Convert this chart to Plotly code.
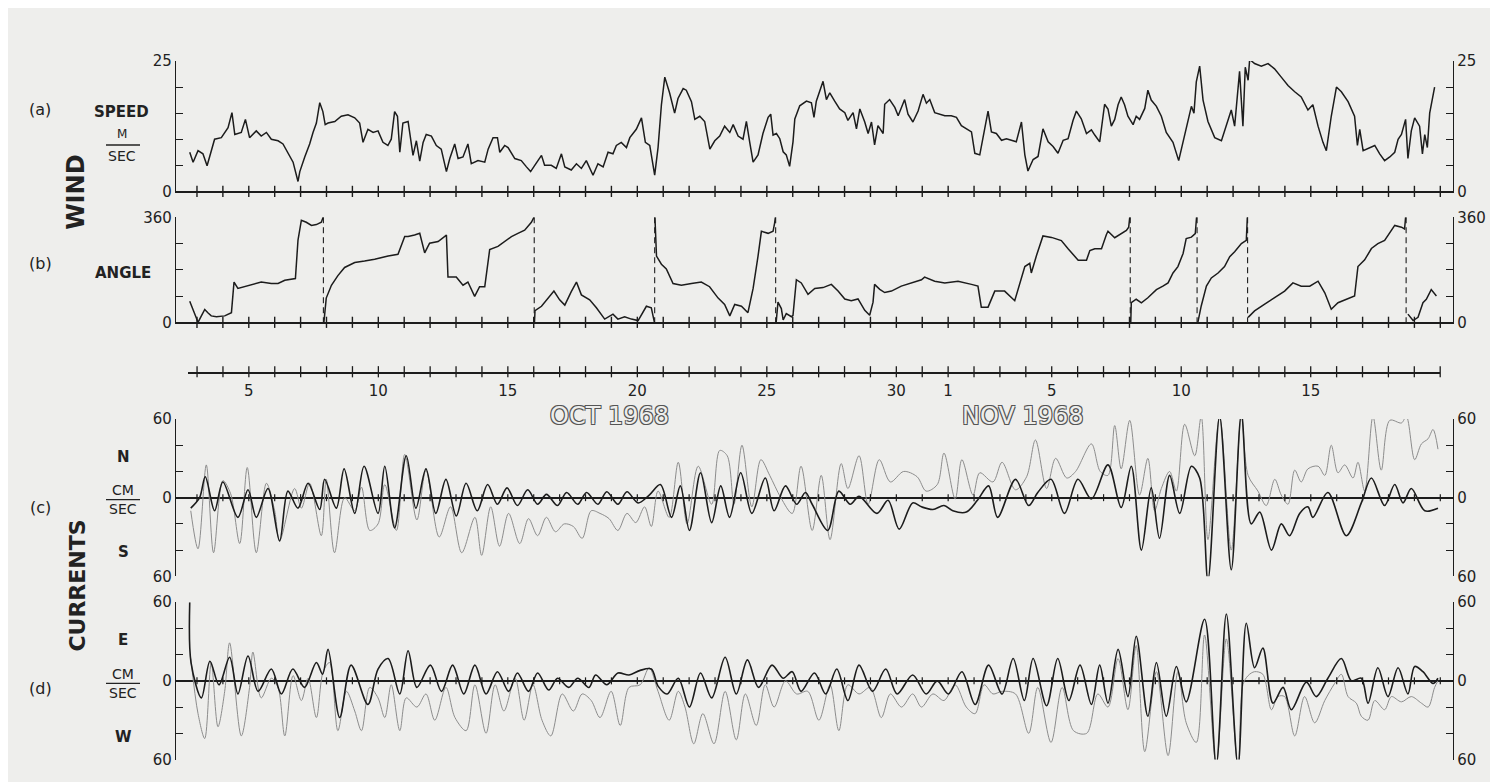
import plotly.graph_objects as go

W, H = 1498, 782
BG = "#eeeeec"
INK = "#1c1c1c"
GRAY = "#8c8c8c"
FONT = "DejaVu Sans"

# ---------------- data (day number: Oct d = d, Nov n = 31 + n) ----------------
speed_day = [2.72, 2.85, 3.04, 3.23, 3.39, 3.55, 3.68, 3.94, 4.20, 4.35, 4.46, 4.71, 4.87, 5.03, 5.29, 5.48, 5.68, 5.87,
             6.13, 6.32, 6.51, 6.71, 6.90, 6.97, 7.16, 7.35, 7.48, 7.61, 7.74, 7.86, 7.95, 8.06, 8.32, 8.57, 8.83, 9.09,
             9.28, 9.41, 9.60, 9.80, 9.99, 10.18, 10.37, 10.50, 10.63, 10.74, 10.83, 10.95, 11.15,
             11.34, 11.47, 11.60, 11.73, 11.85, 12.05, 12.24, 12.43, 12.63, 12.76, 12.95, 13.08, 13.27, 13.46, 13.59,
             13.85, 14.11, 14.24, 14.43, 14.60, 14.69, 14.88, 15.01, 15.27, 15.52, 15.72, 15.88, 16.04, 16.30, 16.42,
             16.68, 16.87, 17.07, 17.20, 17.45, 17.65, 17.84, 18.03, 18.29, 18.48, 18.68, 18.87, 19.06, 19.19, 19.38,
             19.58, 19.71, 19.96, 20.16, 20.31, 20.48, 20.67, 20.80, 20.93, 21.06, 21.25, 21.44, 21.57, 21.77, 21.89,
             22.09, 22.22, 22.41, 22.60, 22.80, 22.99, 23.18, 23.37, 23.57, 23.70, 23.89, 24.08, 24.21, 24.34, 24.47,
             24.66, 24.85, 25.05, 25.15, 25.24, 25.37, 25.50, 25.63, 25.75, 25.88, 26.01, 26.08, 26.27, 26.53, 26.72,
             26.82, 26.91, 27.04, 27.17, 27.30, 27.43, 27.62, 27.81, 28.01, 28.13, 28.33, 28.46, 28.59, 28.78, 28.91,
             29.04, 29.16, 29.29, 29.49, 29.55, 29.74, 29.94, 30.07, 30.19, 30.32, 30.45, 30.64, 30.84, 31.03, 31.16,
             31.29, 31.48, 31.67, 31.87, 32.12, 32.32, 32.51, 32.70, 32.90, 33.03, 33.22, 33.41, 33.54, 33.67, 33.86,
             34.06, 34.25, 34.44, 34.63, 34.83, 34.96, 35.08, 35.28, 35.47, 35.66, 35.86, 36.05, 36.24, 36.44, 36.63,
             36.82, 36.95, 37.14, 37.34, 37.53, 37.66, 37.85, 38.04, 38.17, 38.30, 38.43, 38.56, 38.68, 38.81, 38.94,
             39.14, 39.26, 39.39, 39.59, 39.71, 39.84, 40.04, 40.23, 40.42, 40.68, 40.90, 41.07, 41.26, 41.39, 41.49,
             41.58, 41.71, 41.84, 42.03, 42.29, 42.55, 42.74, 42.93, 43.06, 43.25, 43.38, 43.47, 43.58, 43.64, 43.83,
             44.09, 44.35, 44.60, 44.86, 45.12, 45.38, 45.63, 45.89, 46.08, 46.28, 46.47, 46.60, 46.79, 46.99, 47.18,
             47.44, 47.69, 47.80, 47.89, 48.02, 48.27, 48.47, 48.66, 48.85, 49.05, 49.24, 49.37, 49.50, 49.66, 49.75,
             49.88, 50.01, 50.20, 50.31, 50.40, 50.50, 50.59, 50.78]
speed_val = [7.5, 5.6, 7.8, 7.2, 4.9, 7.5, 10.0, 10.3, 12.2, 15.1, 10.9, 11.3, 13.8, 10.3, 11.6, 10.6, 11.3, 10.0,
             9.7, 9.1, 7.5, 5.6, 1.9, 3.8, 6.6, 9.1, 11.3, 13.1, 17.0, 15.3, 12.8, 13.1, 13.4, 14.4, 14.7, 14.1,
             13.1, 9.4, 11.9, 11.3, 11.6, 9.4, 8.8, 10.0, 15.3, 14.4, 7.5, 13.1, 13.4,
             6.9, 9.7, 5.8, 9.4, 10.9, 10.6, 8.8, 8.1, 3.8, 6.3, 9.1, 6.3, 6.6, 9.1, 5.3,
             5.9, 5.6, 8.1, 10.3, 10.3, 7.5, 8.8, 8.4, 6.3, 5.9, 4.7, 3.8, 5.0, 6.9, 5.0,
             5.0, 4.4, 7.2, 4.7, 4.1, 5.3, 4.4, 5.9, 3.1, 5.3, 4.7, 7.5, 7.2, 8.8, 9.4,
             8.4, 10.3, 11.9, 14.1, 9.4, 8.8, 3.1, 8.4, 16.6, 21.9, 18.8, 15.0, 17.8, 19.7, 19.4,
             17.2, 13.8, 14.4, 13.4, 8.1, 9.7, 10.6, 12.5, 11.3, 12.8, 10.6, 10.0, 13.4, 9.4, 5.6,
             7.0, 11.1, 14.2, 14.8, 10.8, 11.1, 10.1, 7.6, 7.0, 4.8, 9.5, 13.9, 16.4, 17.3, 17.0,
             14.2, 17.3, 19.2, 21.1, 17.6, 18.9, 17.3, 15.8, 15.1, 13.6, 15.1, 12.0, 15.8, 13.3, 11.1,
             13.3, 8.9, 12.6, 11.1, 16.7, 17.6, 16.1, 14.5, 16.1, 17.6, 14.8, 13.3, 15.4, 18.6, 16.9,
             17.6, 15.1, 14.8, 14.5, 14.5, 14.2, 12.6, 12.0, 11.4, 7.3, 7.0, 12.0, 15.4, 11.4, 11.1,
             9.8, 10.1, 9.8, 9.5, 13.3, 7.0, 3.9, 6.1, 6.7, 12.0, 9.5, 8.6, 7.3, 9.8, 10.1,
             13.6, 15.4, 13.9, 11.1, 11.8, 10.8, 9.5, 16.7, 15.8, 12.5, 13.8, 16.6, 18.1, 16.6, 14.4,
             12.8, 14.4, 13.8, 15.9, 19.4, 17.5, 16.3, 14.4, 11.3, 9.4, 5.9, 9.4, 13.1, 16.3, 15.0,
             21.0, 24.0, 17.5, 13.4, 10.3, 9.7, 12.5, 15.6, 12.5, 23.0, 12.5, 23.8, 21.3, 25.3, 24.5,
             24.0, 24.5, 23.5, 21.9, 20.3, 19.1, 18.1, 15.6, 16.6, 12.5, 9.4, 7.8, 14.4, 20.0, 19.1,
             17.2, 14.4, 8.8, 11.9, 7.8, 8.4, 8.8, 7.2, 5.9, 6.6, 7.5, 10.0, 10.9, 13.8, 6.3,
             11.6, 14.1, 12.5, 7.2, 10.9, 8.4, 15.0, 20.0]

# wind angle, one list per branch between the 360/0 wrap-arounds
angle_segments_day = [
    [2.72, 2.91, 3.04, 3.17, 3.30, 3.42, 3.55, 3.75, 4.07, 4.33, 4.43, 4.58, 4.84, 5.10, 5.48, 5.87, 6.13, 6.39, 6.71,
     6.80, 6.90, 7.03, 7.22, 7.42, 7.61, 7.80, 7.87],
    [7.90, 7.99, 8.19, 8.44, 8.70, 9.09, 9.47, 9.86, 10.38, 10.76, 11.02, 11.15, 11.40, 11.60, 11.79, 11.98, 12.31,
     12.63, 12.69, 13.01, 13.27, 13.46, 13.72, 13.91, 14.11, 14.30, 14.62, 14.88, 15.14, 15.39, 15.65, 15.91, 16.01],
    [16.03, 16.05, 16.30, 16.55, 16.78, 17.00, 17.20, 17.45, 17.65, 17.84, 18.16, 18.42, 18.74, 19.06, 19.25, 19.51,
     19.77, 20.03, 20.16, 20.35, 20.54, 20.66],
    [20.68, 20.74, 20.93, 21.12, 21.38, 21.70, 22.09, 22.47, 22.79, 23.12, 23.37, 23.57, 23.76, 24.02, 24.27, 24.47,
     24.66, 24.79, 25.05, 25.24, 25.30, 25.33],
    [25.36, 25.43, 25.56, 25.63, 25.75, 25.95, 26.01, 26.14, 26.33, 26.59, 26.85, 27.17, 27.49, 27.75, 28.01, 28.26,
     28.52, 28.78, 28.97, 29.10, 29.16, 29.36, 29.55, 29.81, 30.19, 30.58, 30.97, 31.09, 31.48, 31.87, 32.38, 32.90,
     33.15, 33.28, 33.54, 33.80, 34.18, 34.57, 34.83, 34.96, 35.15, 35.21, 35.41, 35.66, 35.99, 36.37, 36.63, 37.02,
     37.34, 37.47, 37.66, 37.92, 38.11, 38.17, 38.43, 38.68, 38.88, 38.97, 39.01],
    [39.05, 39.07, 39.26, 39.46, 39.71, 40.04, 40.29, 40.49, 40.68, 40.87, 41.07, 41.19, 41.39, 41.54, 41.59],
    [41.64, 41.77, 41.97, 42.16, 42.42, 42.67, 42.87, 43.06, 43.32, 43.51, 43.55],
    [43.58, 43.83, 44.22, 44.60, 44.99, 45.31, 45.63, 45.96, 46.28, 46.54, 46.79, 47.05, 47.37, 47.69, 47.82, 48.08,
     48.34, 48.59, 48.85, 49.24, 49.50, 49.62, 49.66],
    [49.75, 49.95, 50.14, 50.33, 50.46, 50.65, 50.85],
]
angle_segments_val = [
    [72, 33, 0, 22, 44, 33, 22, 19, 22, 33, 138, 116, 122, 127, 138, 133, 133, 144, 150,
     150, 282, 350, 343, 332, 335, 343, 360],
    [0, 83, 127, 160, 188, 205, 210, 216, 227, 233, 294, 294, 299, 305, 238, 271, 277,
     299, 155, 155, 127, 138, 89, 122, 122, 249, 260, 277, 294, 305, 316, 343, 360],
    [0, 40, 55, 83, 107, 77, 59, 105, 138, 94, 77, 50, 11, 28, 11, 19,
     11, 6, 28, 55, 50, 0],
    [360, 227, 199, 183, 133, 127, 133, 138, 122, 83, 61, 22, 61, 55, 33, 116,
     227, 312, 305, 312, 340, 360],
    [0, 69, 47, 8, 30, 19, 24, 146, 135, 96, 116, 119, 130, 107, 80, 74,
     80, 41, 24, 69, 130, 113, 102, 107, 124, 135, 146, 155, 141, 135, 141, 130,
     124, 52, 52, 107, 107, 74, 157, 191, 202, 169, 229, 296, 291, 280, 252, 213,
     213, 246, 252, 252, 301, 312, 290, 304, 315, 326, 360],
    [0, 67, 79, 67, 84, 112, 124, 135, 169, 191, 236, 287, 292, 304, 360],
    [0, 56, 124, 152, 169, 191, 225, 242, 270, 281, 360],
    [17, 39, 62, 84, 107, 135, 124, 124, 141, 101, 45, 67, 79, 90, 191, 214,
     253, 270, 281, 332, 326, 320, 360],
    [28, 6, 17, 67, 79, 112, 90],
]
wrap_days = [7.88, 16.02, 20.67, 25.34, 39.03, 41.61, 43.56, 49.68]

# currents (c) north-south, (d) east-west; "dark" = heavy trace, "light" = thin trace
ns_dark_day = [2.76, 3.10, 3.32, 3.68, 4.00, 4.58, 4.97, 5.29, 5.74, 6.19, 6.51, 6.90, 7.29, 7.74, 7.93, 8.38, 8.68,
               9.09, 9.45, 9.99, 10.25, 10.63, 11.08, 11.45,
               11.84, 12.22, 12.61, 13.01, 13.39, 13.82, 14.22, 14.60, 14.97, 15.37, 15.77, 16.15, 16.49, 16.92, 17.27,
               17.70, 18.04, 18.48, 18.82, 19.25, 19.60, 20.03, 20.46, 20.89, 21.32, 21.66, 22.01, 22.44, 22.87, 23.22,
               23.56, 23.99, 24.42, 24.94, 25.28, 25.72, 26.15, 26.49, 26.75, 27.35, 27.78, 28.22, 28.56, 29.25, 29.68,
               30.11, 30.63, 30.97, 31.41, 31.84, 32.18, 32.70, 33.13, 33.56, 33.91, 34.60, 35.11, 35.46, 35.97, 36.49,
               37.01, 37.53,
               38.17, 38.68, 39.07, 39.46, 39.84, 40.16, 40.55, 40.94, 41.39, 41.71, 42.03, 42.48, 42.93, 43.32, 43.70,
               44.03, 44.48, 44.86, 45.18, 45.57, 45.89, 46.08, 46.66, 47.37, 47.95, 48.34, 48.85, 49.24, 49.56, 49.88,
               50.40, 50.91]
ns_dark_val = [-8, 0, 16, -10, 12, -15, 6, -15, 7, -33, 5, -8, 11, -9, 14, -8, 22,
               -12, 24, -12, 24, -23, 32, -8,
               22, -12, 14, -14, 11, -10, 10, -5, 7.5, -6, 6, -5, 2.5, -6, 4,
               -5, 4, -5, 4.5, -5, 4.5, -4, 2, 10, -15, 9, -25, 19, -19, 9,
               -15, 19, -12, 15, -10, 9, -5, 4, -5, -25, 5, -5, 1, -12, -2,
               -24, -4, -7, -9, -6, -10, -11, -2, 9, -15, 14, -6, 4, 14, -12,
               14, -1,
               25, -7.5, 24, -40, 7.5, -31, 17, -12, 24, 15, -63, 62, -55, 64, -20,
               -11, -40, -20, -29, -12, -7, -15, 4, -29, -4, 15, -6, 10, -4, 7,
               -10, -8]
ns_light_day = [2.76, 3.04, 3.36, 3.64, 4.00, 4.30, 4.65, 4.94, 5.29, 5.68, 6.00, 6.19, 6.77, 7.03, 7.35, 7.80, 7.99,
                8.31, 8.70, 9.09, 9.35, 9.67, 9.99, 10.25, 10.70, 11.02,
                11.49, 11.84, 12.35, 12.79, 13.22, 13.73, 13.99, 14.34, 14.68, 15.03, 15.46, 15.80, 16.15, 16.49, 16.84,
                17.18, 17.53, 17.87, 18.22, 18.56, 18.91, 19.25, 19.60, 19.94, 20.28, 20.54, 20.80, 21.23, 21.58, 21.92,
                22.35, 22.87, 23.18, 23.47, 23.73, 24.04, 24.42, 24.77, 25.11, 25.54, 25.98, 26.32, 26.75, 27.10, 27.44,
                27.87, 28.13, 28.56, 28.91, 29.34, 29.77, 30.28, 30.80, 31.15, 31.58, 31.84, 32.27, 32.53, 32.96, 33.22,
                33.73, 34.08, 34.60, 35.03, 35.37, 35.80, 36.15, 36.58, 36.92, 37.53, 37.87,
                38.17, 38.43, 38.68, 39.01, 39.39, 39.71, 39.97, 40.23, 40.55, 40.81, 41.13, 41.52, 41.77, 42.03, 42.48,
                42.93, 43.32, 43.58, 43.96, 44.28, 44.61, 44.86, 45.12, 45.38, 45.63, 45.89, 46.28, 46.54, 46.79, 47.05,
                47.31, 47.63, 47.82, 48.08, 48.40, 48.72, 49.05, 49.50, 49.69, 50.01, 50.27, 50.53, 50.72, 50.91]
ns_light_val = [-10, -39, 25, -42, 13, 3, -35, 23, -42, 11, -10, -33, 7, -8, 11, -29, 14,
                -42, 0, -10, 8, -25, -20, 10, -25, 33,
                -17, 21, -30, -7, -42, -15, -44, -7, -37, -12, -35, -16, -29, -15, -26,
                -20, -22, -31, -10, -12, -16, -25, -12, -19, -7, -22, 5, -15, 27, -20,
                24, -5, 36, 32, -5, 40, -7, 29, 17, 0, -12, 24, -25, 17, -32,
                26, 7, 32, -5, 29, 12, 20, 16, 5, 10, 34, -1, 29, 2, 19,
                12, 27, 6, 16, 44, 7, 30, 15, 20, 41, 20,
                17, 55, 22, 59, 2, 30, -10, 7, 20, 5, 56, 32, 62, -32, 62,
                -40, 62, 17, 5, -6, 14, 2, -5, 21, 12, 22, 24, 17, 40, 19,
                25, 15, 27, 5, 62, 21, 59, 57, 62, 29, 41, 45, 52, 37]
ew_dark_day = [2.72, 2.77, 3.17, 3.50, 3.85, 4.26, 4.58, 4.97, 5.36, 5.87, 6.26, 6.70, 7.15, 7.61, 7.85, 8.06, 8.51,
               8.95, 9.60, 9.99, 10.38, 10.83,
               11.15, 11.49, 12.01, 12.44, 12.87, 13.30, 13.73, 14.16, 14.60, 15.03, 15.37, 15.80, 16.15, 16.58, 16.92,
               17.35, 17.70, 18.13, 18.39, 18.82, 19.25, 19.68, 20.11, 20.54, 20.80, 21.15, 21.58, 22.01, 22.44, 22.87,
               23.39, 23.82, 24.25, 24.68, 25.20, 25.63, 25.98, 26.32, 26.84, 27.27, 27.70, 28.13, 28.56, 29.08, 29.59,
               30.03, 30.63, 31.15, 31.58, 32.01, 32.53, 33.04, 33.56, 34.08, 34.51, 34.94, 35.28, 35.80, 36.23, 36.66,
               37.09, 37.53, 37.85,
               38.17, 38.56, 38.94, 39.26, 39.71, 40.04, 40.42, 40.81, 41.19, 41.90, 42.35, 42.74, 43.19, 43.51, 43.83,
               44.15, 44.54, 44.93, 45.25, 45.83, 46.21, 46.66, 47.18, 47.57, 47.95, 48.21, 48.59, 48.98, 49.37, 49.75,
               50.01, 50.33, 50.72, 50.91]
ew_dark_val = [60, 14, -13, 15, -3, 18, -10, 19, -8, 9, -10, 9, -5, 14, 5, 24, -28,
               12, -18, 9, 17, -10,
               23, -5, 12, -8, 12, -10, 12, -10, 7, -8, 6, -8, 6, -7, 2,
               -5, 2, -5, 4.5, -3, 6, 4.5, 8, 9, -4, -10, 2, -20, 6, -13,
               18, -10, 16, -5, 12, 2, 7, -8, 6, -10, 9, -15, 12, -8, 9,
               -10, 4.5, -10, 0, -10, 7, -18, 12, -10, 17, -15, 17, -19, 17, -15,
               12, -18, 12,
               -17, 24, -12, 34, -27, 14, -27, 11, -16, 47, -64, 51, -65, 44, 10,
               25, -17, -5, -22, -1, -12, 2, 17, 0, 2, -17, 10, -12, 10, -10,
               11, 7, -2, 2]
ew_light_day = [2.76, 3.04, 3.30, 3.55, 3.81, 4.07, 4.26, 4.71, 5.03, 5.16, 5.48, 5.87, 6.13, 6.39, 6.71, 7.03, 7.29,
                7.61, 7.87, 8.12, 8.44, 8.77, 9.09, 9.35, 9.67, 9.99, 10.25, 10.50, 10.83, 11.08,
                11.49, 11.84, 12.18, 12.61, 12.96, 13.39, 13.73, 14.16, 14.51, 14.85, 15.28, 15.63, 15.97, 16.32, 16.66,
                17.10, 17.53, 17.87, 18.22, 18.56, 18.99, 19.34, 19.68, 20.11, 20.46, 20.80, 21.23, 21.58, 21.84, 22.18,
                22.53, 22.96, 23.39, 23.82, 24.17, 24.59, 24.94, 25.28, 25.72, 26.15, 26.58, 27.01, 27.44, 27.78, 28.13,
                28.56, 28.99, 29.42, 29.77, 30.20, 30.63, 30.97, 31.41, 31.84, 32.27, 32.70, 33.04, 33.39, 33.73, 34.08,
                34.60, 35.11, 35.46, 35.97, 36.40, 36.84, 37.35, 37.78,
                38.17, 38.56, 38.94, 39.26, 39.59, 40.04, 40.49, 40.87, 41.19, 41.58, 41.90, 42.35, 42.74, 43.19, 43.38,
                43.58, 43.83, 44.15, 44.48, 44.73, 44.99, 45.38, 45.76, 46.15, 46.54, 46.92, 47.18, 47.44, 47.76, 47.95,
                48.21, 48.47, 48.85, 49.11, 49.50, 49.88, 50.27, 50.53, 50.78, 50.91]
ew_light_val = [17, -25, -44, 14, -35, -8, 29, -42, -5, 22, -13, 2, -5, -42, 4, -15, 2,
                -28, 7, 14, -38, -8, -23, -38, -5, -13, -28, -3, -38, -13,
                -20, -10, -30, -5, -28, -38, -3, -40, -3, -23, 2, -30, -3, -30, -42,
                -10, -23, -10, -15, -28, -8, -34, -5, -3, 10, -8, -30, -8, -20, -48,
                -25, -48, -8, -45, -10, -34, -3, -20, 0, -10, -8, -30, -3, -38, -3,
                -10, -5, -28, -10, -20, -10, -20, -10, -15, -3, -20, -25, -3, -10, -8,
                -10, -40, -5, -47, -5, -38, -40, -10,
                -20, 17, -22, 27, -54, 7, -57, 7, -32, -47, 35, -64, 32, -66, -3,
                4, 7, 5, -22, -12, -12, -42, -12, -32, -15, -2, 5, -12, -17, -27,
                -30, -15, -22, -12, -16, -12, -17, -20, -5, 0]

day_ticks = list(range(3, 52))
date_label_days = [5, 10, 15, 20, 25, 30, 32, 36, 41, 46]
date_label_text = ["5", "10", "15", "20", "25", "30", "1", "5", "10", "15"]

speed_ticks = [0, 5, 10, 15, 20, 25]
speed_tick_text = ["0", "", "", "", "", "25"]
angle_ticks = [0, 90, 180, 270, 360]
angle_tick_text = ["0", "", "", "", "360"]
cur_ticks = [-60, -40, -20, 0, 20, 40, 60]
cur_tick_text = ["60", "", "", "0", "", "", "60"]

# ---------------- geometry helpers (pixel -> paper) ----------------
def fx(p):
    return p / W

def fy(p):
    return 1 - p / H

X_DOM = [fx(168), fx(1445)]
X_RANGE = [2.19, 51.49]

fig = go.Figure()

def line_trace(x, y, xa, ya, color=INK, width=1.5, shape="linear", dash=None):
    fig.add_trace(go.Scatter(x=x, y=y, mode="lines",
                             line=dict(color=color, width=width, shape=shape, smoothing=0.9, dash=dash),
                             xaxis=xa, yaxis=ya, hoverinfo="skip", showlegend=False, cliponaxis=False))

# (a) speed
line_trace(speed_day, speed_val, "x", "y", width=1.5)
# (b) angle
ax, ay = [], []
for sd, sv in zip(angle_segments_day, angle_segments_val):
    ax += sd + [None]
    ay += sv + [None]
line_trace(ax, ay, "x2", "y3", width=1.5)
wx, wy = [], []
for w in wrap_days:
    wx += [w, w, None]
    wy += [360, 0, None]
line_trace(wx, wy, "x2", "y3", width=1.1, dash="6px,4px")
# (c), (d) currents
line_trace(ns_light_day, ns_light_val, "x3", "y5", color=GRAY, width=1.0, shape="spline")
line_trace(ns_dark_day, ns_dark_val, "x3", "y5", color=INK, width=1.6, shape="spline")
line_trace(ew_light_day, ew_light_val, "x4", "y7", color=GRAY, width=1.0, shape="spline")
line_trace(ew_dark_day, ew_dark_val, "x4", "y7", color=INK, width=1.6, shape="spline")

# day tick marks crossing the baselines
tick_marker = dict(symbol="line-ns", size=8, line=dict(width=1.4, color=INK))
for xa, ya in [("x", "y2"), ("x2", "y4")]:
    fig.add_trace(go.Scatter(x=day_ticks, y=[0] * len(day_ticks), mode="markers", marker=tick_marker,
                             xaxis=xa, yaxis=ya, hoverinfo="skip", showlegend=False, cliponaxis=False))
small_marker = dict(symbol="line-ns", size=5, line=dict(width=1.2, color=INK))
for xa, ya in [("x3", "y6"), ("x4", "y8")]:
    fig.add_trace(go.Scatter(x=day_ticks, y=[0] * len(day_ticks), mode="markers", marker=small_marker,
                             xaxis=xa, yaxis=ya, hoverinfo="skip", showlegend=False, cliponaxis=False))
# date axis crossing ticks
fig.add_trace(go.Scatter(x=day_ticks, y=[0.5] * len(day_ticks), mode="markers",
                         marker=dict(symbol="line-ns", size=8, line=dict(width=1.3, color=INK)),
                         xaxis="x5", yaxis="y9", hoverinfo="skip", showlegend=False, cliponaxis=False))

tickfont = dict(family=FONT, size=15, color="#222")

def xax(anchor, showline):
    return dict(domain=X_DOM, range=X_RANGE, anchor=anchor, showline=showline, linecolor=INK, linewidth=1.6,
                showgrid=False, zeroline=False, ticks="", showticklabels=False, fixedrange=True)

def yax(dom, rng, tv, tt, anchor, side="left", overlay=None, zeroline=False):
    d = dict(domain=dom, range=rng, anchor=anchor, side=side, showline=True, linecolor=INK, linewidth=1.4,
             ticks="inside", ticklen=7, tickwidth=1.3, tickcolor=INK, tickvals=tv, ticktext=tt,
             tickfont=tickfont, showgrid=False, zeroline=zeroline, zerolinecolor=INK, zerolinewidth=1.6,
             fixedrange=True)
    if overlay:
        d["overlaying"] = overlay
    return d

A_DOM = [fy(178.5), fy(45)]
B_DOM = [fy(312.5), fy(205)]
C_DOM = [fy(572.5), fy(411.5)]
D_DOM = [fy(760), fy(599)]

fig.update_layout(
    width=W, height=H, margin=dict(l=0, r=0, t=0, b=0),
    paper_bgcolor=BG, plot_bgcolor="rgba(0,0,0,0)",
    xaxis=xax("y", True),
    xaxis2=xax("y3", True),
    xaxis3=xax("y5", False),
    xaxis4=xax("y7", False),
    yaxis=yax(A_DOM, [0, 25], speed_ticks, speed_tick_text, "x"),
    yaxis2=yax(A_DOM, [0, 25], speed_ticks, speed_tick_text, "x", "right", "y"),
    yaxis3=yax(B_DOM, [0, 360], angle_ticks, angle_tick_text, "x2"),
    yaxis4=yax(B_DOM, [0, 360], angle_ticks, angle_tick_text, "x2", "right", "y3"),
    yaxis5=yax(C_DOM, [-60, 60], cur_ticks, cur_tick_text, "x3", zeroline=True),
    yaxis6=yax(C_DOM, [-60, 60], cur_ticks, cur_tick_text, "x3", "right", "y5"),
    yaxis7=yax(D_DOM, [-60, 60], cur_ticks, cur_tick_text, "x4", zeroline=True),
    yaxis8=yax(D_DOM, [-60, 60], cur_ticks, cur_tick_text, "x4", "right", "y7"),
    xaxis5=dict(domain=[fx(180), fx(1432.2)], range=[2.65, 51], anchor="y9", showline=True,
                linecolor=INK, linewidth=1.5, ticks="outside", ticklen=4, tickcolor="rgba(0,0,0,0)",
                tickvals=day_ticks,
                ticktext=[date_label_text[date_label_days.index(d)] if d in date_label_days else "" for d in day_ticks],
                tickfont=tickfont, showgrid=False, zeroline=False, fixedrange=True),
    yaxis9=dict(domain=[fy(363.6), fy(362.6)], range=[0, 1], anchor="x5", visible=False, fixedrange=True),
)

def label(text, x, y, size=15, bold=False, angle=0, color="#222"):
    fig.add_annotation(text=text, x=fx(x), y=fy(y), xref="paper", yref="paper", showarrow=False,
                       xanchor="center", yanchor="middle", textangle=angle,
                       font=dict(family=FONT, size=size, color=color, weight="bold" if bold else "normal"))

label("(a)", 32, 95, 16)
label("SPEED", 113, 97, 15, True)
label("M", 114, 120, 12)
label("SEC", 114, 142, 14)
label("WIND", 68, 180, 24, True, -90)
label("(b)", 32, 252, 16)
label("ANGLE", 115, 262, 15, True)
label("(c)", 32, 502, 16)
label("N", 115, 450, 15, True)
label("CM", 115, 484, 14)
label("SEC", 115, 504, 14)
label("S", 115, 548, 15, True)
label("CURRENTS", 70, 582, 22, True, -90)
label("(d)", 32, 687, 16)
label("E", 115, 638, 15, True)
label("CM", 115, 672, 14)
label("SEC", 115, 692, 14)
label("W", 115, 737, 15, True)

for cx, txt in [(601, "OCT 1968"), (1015, "NOV 1968")]:
    fig.add_annotation(text=txt, x=fx(cx), y=fy(408), xref="paper", yref="paper", showarrow=False,
                       xanchor="center", yanchor="middle",
                       font=dict(family=FONT, size=24, color=BG,
                                 shadow="-1px -1px 0 #555, 1px -1px 0 #555, -1px 1px 0 #555, 1px 1px 0 #555"))

for yline in [131, 494, 682]:
    fig.add_shape(type="line", xref="paper", yref="paper", x0=fx(98), x1=fx(132), y0=fy(yline), y1=fy(yline),
                  line=dict(color="#222", width=1.3))

fig.write_html("out.html")
